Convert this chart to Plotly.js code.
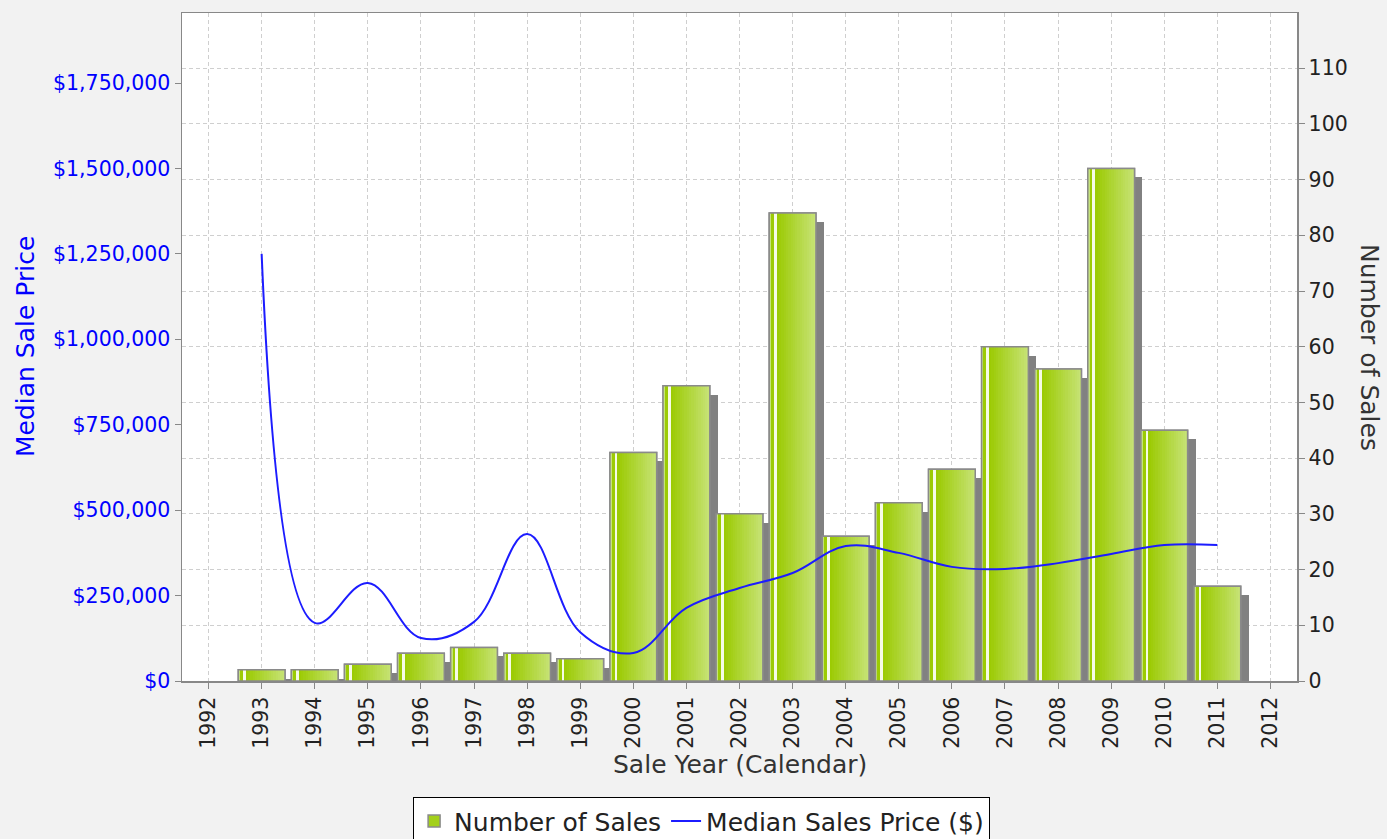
<!DOCTYPE html>
<html><head><meta charset="utf-8">
<script src="https://cdn.plot.ly/plotly-3.0.1.min.js"></script>
<style>html,body{margin:0;padding:0;background:#f2f2f2;} #chart{width:1387px;height:839px;}</style>
</head><body><div id="chart"></div>
<script>
// ---- data ----
const years = [1993,1994,1995,1996,1997,1998,1999,2000,2001,2002,2003,2004,2005,2006,2007,2008,2009,2010,2011];
const numberOfSales = [2,2,3,5,6,5,4,41,53,30,84,26,32,38,60,56,92,45,17];
const medianPrice = [1250000,170000,287000,126000,173000,430000,143000,82000,214000,272000,316000,395000,375000,334000,328000,345000,372000,398000,398000];
const yearTicks = [1992,1993,1994,1995,1996,1997,1998,1999,2000,2001,2002,2003,2004,2005,2006,2007,2008,2009,2010,2011,2012];
const yearTickText = ['1992','1993','1994','1995','1996','1997','1998','1999','2000','2001','2002','2003','2004','2005','2006','2007','2008','2009','2010','2011','2012'];
const priceTickVals = [0,250000,500000,750000,1000000,1250000,1500000,1750000];
const priceTickText = ['$0','$250,000','$500,000','$750,000','$1,000,000','$1,250,000','$1,500,000','$1,750,000'];
const salesTickVals = [0,10,20,30,40,50,60,70,80,90,100,110];

// ---- style ----
const FONT = 'DejaVu Sans, Verdana, sans-serif';
const TICK_SIZE = 20.5, TITLE_SIZE = 25;
const BAR_W = 0.88, BAR_OFF = -0.44;
const SHADOW_DX = 0.15, SHADOW_DY = 1.6;

function hex(c){return [parseInt(c.slice(1,3),16),parseInt(c.slice(3,5),16),parseInt(c.slice(5,7),16)];}
function mix(a,b,t){const A=hex(a),B=hex(b);return 'rgb('+A.map((v,i)=>Math.round(v+(B[i]-v)*t)).join(',')+')';}

const traces = [];
// shadow
traces.push({type:'bar', x:years, y:numberOfSales.map(v=>Math.max(v-SHADOW_DY,0)),
  offset:BAR_OFF+SHADOW_DX, width:BAR_W, marker:{color:'#818181', line:{width:0}},
  showlegend:false, hoverinfo:'skip'});
// base bar (legend entry)
traces.push({type:'bar', name:'Number of Sales', x:years, y:numberOfSales,
  offset:BAR_OFF, width:BAR_W, marker:{color:'#a3d01a', line:{color:'#8a8a8a', width:1.5}}});
// gradient slices
const profile = [
  [0.00,0.04,'#c6e47a','#a8d21e'],
  [0.04,0.10,'#9ccb04','#a6d018'],
  [0.10,0.16,'#f6fbe6','#f6fbe6'],
  [0.16,1.00,'#9ccb04','#c6e274']
];
profile.forEach(([a,b,c0,c1])=>{
  const n = Math.max(1, Math.round((b-a)/0.05));
  for(let i=0;i<n;i++){
    const s = a+(b-a)*i/n, w=(b-a)/n;
    traces.push({type:'bar', x:years, y:numberOfSales, offset:BAR_OFF+BAR_W*s, width:BAR_W*w*1.02,
      marker:{color:mix(c0,c1,n>1?i/(n-1):0), line:{width:0}}, showlegend:false, hoverinfo:'skip'});
  }
});
// outline
traces.push({type:'bar', x:years, y:numberOfSales, offset:BAR_OFF, width:BAR_W,
  marker:{color:'rgba(0,0,0,0)', line:{color:'#8a8a8a', width:1.5}}, showlegend:false, hoverinfo:'skip'});
// line
traces.push({type:'scatter', mode:'lines', name:'Median Sales Price ($)', x:years, y:medianPrice, yaxis:'y2',
  line:{color:'#1c1cff', width:2, shape:'spline', smoothing:1.1}});

const grid = {showgrid:true, gridcolor:'#cfcfcf', griddash:'4px,3px', gridwidth:1};
const layout = {
  width:1387, height:839,
  paper_bgcolor:'#f2f2f2', plot_bgcolor:'#ffffff',
  margin:{l:182, r:90, t:13, b:158, autoexpand:false},
  barmode:'overlay', bargap:0,
  font:{family:FONT, size:18, color:'#222'},
  xaxis:Object.assign({range:[1991.5,2012.5], tickmode:'array', tickvals:yearTicks, ticktext:yearTickText,
    tickangle:-90, ticks:'outside', ticklen:6, tickcolor:'#888', showline:true, linecolor:'#888', linewidth:1.5,
    mirror:true, zeroline:false, automargin:false, tickfont:{family:FONT, size:TICK_SIZE, color:'#222'}}, grid),
  yaxis:Object.assign({side:'right', range:[0,119.9], tickmode:'array', tickvals:salesTickVals,
    ticks:'outside', ticklen:6, tickcolor:'#888', showline:true, linecolor:'#888', linewidth:1.5, mirror:true,
    zeroline:false, automargin:false, tickfont:{family:FONT, size:TICK_SIZE, color:'#222'}}, grid),
  yaxis2:{overlaying:'y', side:'left', range:[0,1955000], tickmode:'array', tickvals:priceTickVals, ticktext:priceTickText,
    ticks:'outside', ticklen:6, tickcolor:'#888', showline:true, linecolor:'#888', linewidth:1.5,
    showgrid:false, zeroline:false, automargin:false, tickfont:{family:FONT, size:TICK_SIZE, color:'#0000ff'}},
  legend:{orientation:'h', x:0.466, xanchor:'center', y:-0.174, yanchor:'top',
    bgcolor:'#ffffff', bordercolor:'#000', borderwidth:1, font:{family:FONT, size:TITLE_SIZE, color:'#222'}},
  annotations:[
    {text:'Sale Year (Calendar)', xref:'paper', yref:'paper', x:0.5, y:-0.1257, xanchor:'center', yanchor:'middle',
      showarrow:false, font:{family:FONT, size:TITLE_SIZE, color:'#333'}},
    {text:'Median Sale Price', xref:'paper', yref:'paper', x:-0.1408, y:0.5, xanchor:'center', yanchor:'middle',
      textangle:-90, showarrow:false, font:{family:FONT, size:TITLE_SIZE, color:'#0000ff'}},
    {text:'Number of Sales', xref:'paper', yref:'paper', x:1.0655, y:0.5, xanchor:'center', yanchor:'middle',
      textangle:90, showarrow:false, font:{family:FONT, size:TITLE_SIZE, color:'#333'}}
  ],
  showlegend:true
};
Plotly.newPlot('chart', traces, layout, {displayModeBar:false, staticPlot:true});
</script>
</body></html>
